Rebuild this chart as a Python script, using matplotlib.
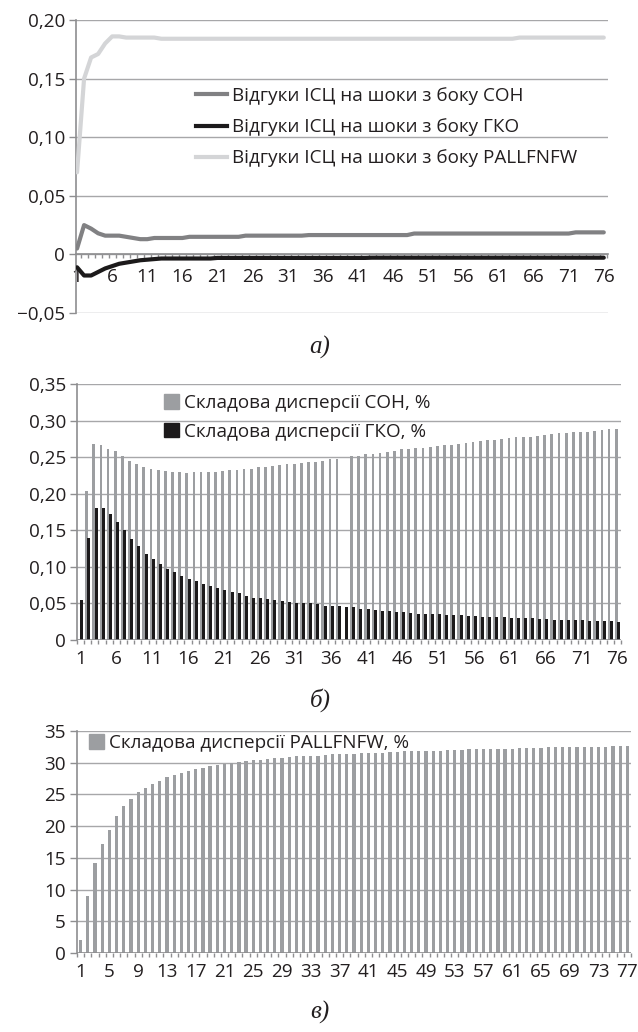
import numpy as np
import matplotlib
matplotlib.use("Agg")
import matplotlib.pyplot as plt
from matplotlib.lines import Line2D
from matplotlib.patches import Patch

plt.rcParams['font.family'] = ['Open Sans', 'DejaVu Sans']

# ---- panel a: impulse responses of CPI ----
resp_con = [0.005, 0.025, 0.022, 0.018, 0.016, 0.016, 0.016, 0.015, 0.014, 0.013,
            0.013, 0.014, 0.014, 0.014, 0.014, 0.014, 0.015, 0.015, 0.015, 0.015,
            0.015, 0.015, 0.015, 0.015, 0.016, 0.016, 0.016, 0.016, 0.016, 0.016,
            0.016, 0.016, 0.016, 0.0165, 0.0165, 0.0165, 0.0165, 0.0165, 0.0165, 0.0165,
            0.0165, 0.0165, 0.0165, 0.0165, 0.0165, 0.0165, 0.0165, 0.0165, 0.0178, 0.0178,
            0.0178, 0.0178, 0.0178, 0.0178, 0.0178, 0.0178, 0.0178, 0.0178, 0.0178, 0.0178,
            0.0178, 0.0178, 0.0178, 0.0178, 0.0178, 0.0178, 0.0178, 0.0178, 0.0178, 0.0178,
            0.0178, 0.0188, 0.0188, 0.0188, 0.0188, 0.0188]
resp_gko = [-0.011, -0.018, -0.018, -0.015, -0.012, -0.010, -0.008, -0.007, -0.006, -0.005,
            -0.0045, -0.004, -0.0035, -0.0035, -0.0035, -0.0035, -0.0035, -0.0035, -0.0035, -0.0035,
            -0.003, -0.003, -0.003, -0.003, -0.003, -0.003, -0.003, -0.003, -0.003, -0.003,
            -0.003, -0.003, -0.003, -0.003, -0.003, -0.003, -0.003, -0.003, -0.003, -0.003,
            -0.003, -0.003, -0.0028, -0.0028, -0.0028, -0.0028, -0.0028, -0.0028, -0.0028, -0.0028,
            -0.0028, -0.0028, -0.0028, -0.0028, -0.0028, -0.0028, -0.0028, -0.0028, -0.0028, -0.0028,
            -0.0028, -0.0028, -0.0028, -0.0028, -0.0028, -0.0028, -0.0028, -0.0028, -0.0028, -0.0028,
            -0.0028, -0.0028, -0.0028, -0.0028, -0.0028, -0.0028]
resp_pall = [0.070, 0.150, 0.168, 0.171, 0.180, 0.186, 0.186, 0.185, 0.185, 0.185,
             0.185, 0.185, 0.184, 0.184, 0.184, 0.184, 0.184, 0.184, 0.184, 0.184,
             0.184, 0.184, 0.184, 0.184, 0.184, 0.184, 0.184, 0.184, 0.184, 0.184,
             0.184, 0.184, 0.184, 0.184, 0.184, 0.184, 0.184, 0.184, 0.184, 0.184,
             0.184, 0.184, 0.184, 0.184, 0.184, 0.184, 0.184, 0.184, 0.184, 0.184,
             0.184, 0.184, 0.184, 0.184, 0.184, 0.184, 0.184, 0.184, 0.184, 0.184,
             0.184, 0.184, 0.184, 0.185, 0.185, 0.185, 0.185, 0.185, 0.185, 0.185,
             0.185, 0.185, 0.185, 0.185, 0.185, 0.185]
labels_a = ['Відгуки ІСЦ на шоки з боку СОН',
            'Відгуки ІСЦ на шоки з боку ГКО',
            'Відгуки ІСЦ на шоки з боку PALLFNFW']
yticks_a = [-0.05, 0, 0.05, 0.10, 0.15, 0.20]
ylabels_a = ['\u22120,05', '0', '0,05', '0,10', '0,15', '0,20']

# ---- panel b: variance decomposition, CON and GKO ----
var_con = [0.0, 0.204, 0.268, 0.266, 0.261, 0.258, 0.251, 0.245, 0.241, 0.237,
           0.234, 0.232, 0.231, 0.230, 0.230, 0.229, 0.230, 0.230, 0.230, 0.230,
           0.231, 0.232, 0.233, 0.234, 0.234, 0.236, 0.237, 0.238, 0.239, 0.240,
           0.241, 0.242, 0.243, 0.244, 0.245, 0.247, 0.248, 0.0, 0.251, 0.252,
           0.254, 0.254, 0.255, 0.257, 0.259, 0.261, 0.261, 0.262, 0.263, 0.264,
           0.265, 0.266, 0.267, 0.268, 0.269, 0.271, 0.272, 0.273, 0.274, 0.275,
           0.276, 0.277, 0.278, 0.278, 0.279, 0.280, 0.282, 0.283, 0.283, 0.284,
           0.284, 0.285, 0.286, 0.287, 0.288, 0.289]
var_gko = [0.055, 0.140, 0.181, 0.180, 0.172, 0.161, 0.150, 0.138, 0.128, 0.117,
           0.111, 0.104, 0.097, 0.093, 0.088, 0.083, 0.080, 0.077, 0.074, 0.071,
           0.068, 0.066, 0.064, 0.060, 0.058, 0.057, 0.056, 0.055, 0.053, 0.052,
           0.051, 0.050, 0.050, 0.049, 0.047, 0.047, 0.046, 0.045, 0.045, 0.043,
           0.042, 0.041, 0.040, 0.039, 0.038, 0.038, 0.037, 0.036, 0.036, 0.036,
           0.035, 0.034, 0.034, 0.034, 0.033, 0.033, 0.032, 0.032, 0.031, 0.031,
           0.030, 0.030, 0.030, 0.030, 0.029, 0.029, 0.028, 0.028, 0.027, 0.027,
           0.027, 0.026, 0.026, 0.026, 0.026, 0.025]
labels_b = ['Складова дисперсії СОН, %', 'Складова дисперсії ГКО, %']
yticks_b = [0, 0.05, 0.10, 0.15, 0.20, 0.25, 0.30, 0.35]
ylabels_b = ['0', '0,05', '0,10', '0,15', '0,20', '0,25', '0,30', '0,35']

# ---- panel c: variance decomposition, PALLFNFW ----
var_pall = [2.0, 9.0, 14.2, 17.2, 19.4, 21.6, 23.2, 24.3, 25.4, 26.0,
            26.6, 27.1, 27.7, 28.1, 28.4, 28.7, 29.0, 29.2, 29.5, 29.6,
            29.8, 30.0, 30.1, 30.3, 30.4, 30.5, 30.6, 30.7, 30.8, 30.9,
            31.0, 31.0, 31.1, 31.1, 31.2, 31.3, 31.3, 31.4, 31.4, 31.5,
            31.5, 31.6, 31.6, 31.7, 31.7, 31.8, 31.8, 31.8, 31.9, 31.9,
            31.9, 32.0, 32.0, 32.0, 32.1, 32.1, 32.1, 32.2, 32.2, 32.2,
            32.2, 32.3, 32.3, 32.3, 32.3, 32.4, 32.4, 32.4, 32.4, 32.5,
            32.5, 32.5, 32.5, 32.5, 32.6, 32.6, 32.6]
label_c = 'Складова дисперсії PALLFNFW, %'
yticks_c = [0, 5, 10, 15, 20, 25, 30, 35]

captions = ['а)', 'б)', 'в)']

GRID = '#a7a7a9'
AXC = '#8e8e90'
TXT = '#231f20'
BARGRAY = '#9c9ea1'
BLACK = '#1c1a1b'
FS = 13.6


def style_axes(ax):
    for s in ['top', 'right', 'bottom']:
        ax.spines[s].set_visible(False)
    ax.spines['left'].set_color(AXC)
    ax.spines['left'].set_linewidth(1.2)
    ax.yaxis.grid(True, color=GRID, linewidth=1.0)
    ax.set_axisbelow(True)
    ax.tick_params(axis='y', direction='out', length=5, width=1, color=AXC,
                   labelsize=FS, labelcolor=TXT, pad=3)
    ax.tick_params(axis='x', which='major', length=0, labelsize=FS,
                   labelcolor=TXT, pad=4)
    ax.tick_params(axis='x', which='minor', direction='out', length=3,
                   width=1, color=AXC)


fig = plt.figure(figsize=(6.38, 10.32), dpi=100)

# panel a
ax1 = fig.add_axes([76 / 638, 1 - 313 / 1032, 532 / 638, 293 / 1032])
x_a = np.arange(1, len(resp_con) + 1)
ax1.plot(x_a, resp_pall, color='#d4d5d7', lw=3.0, solid_capstyle='round', zorder=3)
ax1.plot(x_a, resp_con, color='#818183', lw=3.0, solid_capstyle='round', zorder=3)
ax1.plot(x_a, resp_gko, color=BLACK, lw=3.0, solid_capstyle='round', zorder=4)
ax1.set_ylim(-0.05, 0.20)
ax1.set_xlim(0.85, 76.6)
ax1.set_yticks(yticks_a)
ax1.set_yticklabels(ylabels_a)
style_axes(ax1)
ax1.spines['bottom'].set_visible(True)
ax1.spines['bottom'].set_position(('data', 0))
ax1.spines['bottom'].set_color(AXC)
ax1.spines['bottom'].set_linewidth(1.2)
ax1.set_xticks(x_a[::5])
ax1.set_xticks(np.arange(1.5, 76.6, 1), minor=True)
ax1.set_xticklabels([str(v) for v in x_a[::5]])
ax1.tick_params(axis='x', which='major', pad=10)
handles_a = [Line2D([], [], color='#818183', lw=3.0),
             Line2D([], [], color=BLACK, lw=3.0),
             Line2D([], [], color='#d4d5d7', lw=3.0)]
ax1.legend(handles_a, labels_a, loc='upper left', frameon=False,
           bbox_to_anchor=(196 / 638, 1 - 87 / 1032), bbox_transform=fig.transFigure,
           fontsize=FS, handlelength=1.65, handletextpad=0.28, labelspacing=0.7,
           borderpad=0, borderaxespad=0, labelcolor=TXT)

# panel b
ax2 = fig.add_axes([77 / 638, 1 - 640 / 1032, 544 / 638, 256 / 1032])
x_b = np.arange(1, len(var_con) + 1)
ax2.bar(x_b - 0.16, var_con, width=0.38, color=BARGRAY, zorder=2)
ax2.bar(x_b + 0.16, var_gko, width=0.42, color=BLACK, zorder=3)
ax2.set_ylim(0, 0.35)
ax2.set_xlim(0.5, 76.5)
ax2.set_yticks(yticks_b)
ax2.set_yticklabels(ylabels_b)
style_axes(ax2)
ax2.axhline(0, color=AXC, lw=1.2, zorder=4)
ax2.set_xticks(x_b[::5])
ax2.set_xticks(np.arange(0.5, 76.6, 1), minor=True)
ax2.set_xticklabels([str(v) for v in x_b[::5]])
ax2.tick_params(axis='x', which='major', pad=7)
handles_b = [Patch(color=BARGRAY), Patch(color=BLACK)]
ax2.legend(handles_b, labels_b, loc='upper left', frameon=False,
           bbox_to_anchor=(164 / 638, 1 - 394 / 1032), bbox_transform=fig.transFigure,
           fontsize=FS, handlelength=0.8, handleheight=0.8, handletextpad=0.28,
           labelspacing=0.57, borderpad=0, borderaxespad=0, labelcolor=TXT)

# panel c
ax3 = fig.add_axes([77 / 638, 1 - 953 / 1032, 554 / 638, 222 / 1032])
x_c = np.arange(1, len(var_pall) + 1)
ax3.bar(x_c, var_pall, width=0.45, color=BARGRAY, zorder=2)
ax3.set_ylim(0, 35)
ax3.set_xlim(0.5, 77.5)
ax3.set_yticks(yticks_c)
ax3.set_yticklabels([str(v) for v in yticks_c])
style_axes(ax3)
ax3.axhline(0, color=AXC, lw=1.2, zorder=4)
ax3.set_xticks(x_c[::4])
ax3.set_xticks(np.arange(0.5, 77.6, 1), minor=True)
ax3.set_xticklabels([str(v) for v in x_c[::4]])
ax3.tick_params(axis='x', which='major', pad=7)
ax3.legend([Patch(color=BARGRAY)], [label_c], loc='upper left', frameon=False,
           bbox_to_anchor=(89 / 638, 1 - 734 / 1032), bbox_transform=fig.transFigure,
           fontsize=FS, handlelength=0.8, handleheight=0.8, handletextpad=0.28,
           borderpad=0, borderaxespad=0, labelcolor=TXT)

# captions
for cap, yy in zip(captions, [347, 700, 1012]):
    fig.text(320 / 638, 1 - yy / 1032, cap, ha='center', va='center',
             fontsize=18, style='italic', family=['Liberation Serif', 'DejaVu Serif'],
             color=TXT)

fig.savefig('out.png', dpi=100)
